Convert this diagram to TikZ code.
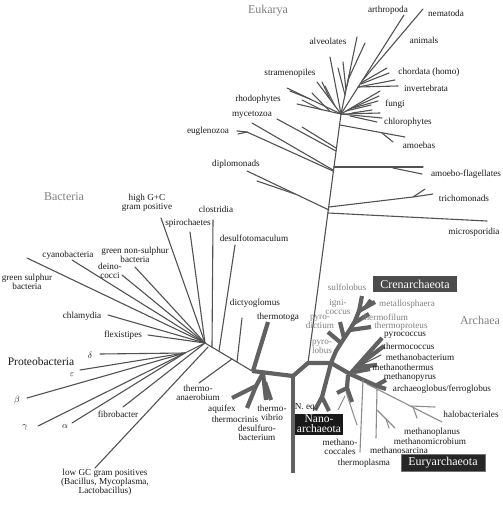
\documentclass[tikz,border=0pt]{standalone}
\usepackage{fontspec}
\setmainfont{Liberation Serif}
\begin{document}
\begin{tikzpicture}[x=1pt,y=-1pt,
  tln/.style={draw=black!68,line width=1.1pt,line cap=round},
  gln/.style={draw=black!45,line width=1.1pt,line cap=round},
  kln/.style={draw=black!62,line width=4.2pt,line cap=butt,line join=round},
  lbl/.style={font=\fontsize{9.2}{9}\selectfont,inner sep=0pt,align=center,text=black!90},
  glbl/.style={lbl,text=black!50},
  dom/.style={font=\fontsize{12}{13}\selectfont,text=black!50,inner sep=0pt},
  gbox/.style={font=\fontsize{12}{10}\selectfont,text=white,inner sep=0pt,align=center}
]
\useasboundingbox (0,0) rectangle (503,506);

% ---------------- Eukarya ----------------
\coordinate (K) at (341,114);
\draw[tln] (308,363) -- (K);
\draw[tln] (328,213) -- (487,221);
\draw[tln] (329,207) -- (413,197) -- (433,194);
\draw[tln] (413,197) -- (425,189);
\draw[tln] (329,210) -- (247,171);
\draw[tln] (295,194) -- (257,181);
\draw[tln] (334,167) -- (423,167);
\draw[tln] (393,168) -- (422,174);
\draw[tln] (333,171) -- (247,132);
\draw[tln] (247,132) -- (237,131);
\draw[tln] (247,132) -- (238,134);
\draw[tln] (333,170) -- (252,123);
\draw[tln] (336,151) -- (277,119);
\draw[tln] (336,148) -- (302,127);
% amoebas
\draw[tln] (340,125) -- (405,137);
\draw[tln] (382,133) -- (393,142);
% chlorophytes
\draw[tln] (K) -- (380,113);
\draw[tln] (K) -- (382,118);
\draw[tln] (350,116) -- (377,122);
\draw[tln] (352,113) -- (372,110);
% fungi
\draw[tln] (K) -- (380,91);
\draw[tln] (350,109) -- (379,96);
\draw[tln] (353,108) -- (378,101);
\draw[tln] (346,111) -- (371,105);
% animals
\draw[tln] (K) -- (404,15);
\draw[tln] (362,81) -- (423,9);
\draw[tln] (358,87) -- (395,80);
\draw[tln] (358,87) -- (398,86);
\draw[tln] (361,83) -- (387,68);
\draw[tln] (361,84) -- (389,73);
% left fan
\draw[tln] (K) -- (357,37);
\draw[tln] (348,80) -- (365,43);
\draw[tln] (K) -- (330,57);
\draw[tln] (345,95) -- (338,68);
\draw[tln] (346,90) -- (343,62);
\draw[tln] (347,86) -- (350,72);
\draw[tln] (K) -- (317,82);
\draw[tln] (330,99) -- (322,82);
\draw[tln] (335,106) -- (325,86);
\draw[tln] (K) -- (287,88);
\draw[tln] (310,99) -- (290,91);
\draw[tln] (K) -- (297,104);
\draw[tln] (322,110) -- (302,100);
\draw[tln] (330,111.5) -- (312,93);

% ---------------- Bacteria ----------------
\coordinate (H) at (205,343);
\coordinate (P) at (185,353);
\draw[tln] (27,258) -- (H);
\draw[tln] (72,260) -- (H);
\draw[tln] (122,275) -- (H);
\draw[tln] (135,267) -- (H);
\draw[tln] (161,218) -- (H);
\draw[tln] (190,232) -- (H);
\draw[tln] (213,220) -- (212,347);
\draw[tln] (235,245) -- (219,351);
\draw[tln] (108,315) -- (H);
\draw[tln] (148,335) -- (H);
\draw[tln] (100,354) -- (P);
\draw[tln] (80,370) -- (P);
\draw[tln] (27,398) -- (P);
\draw[tln] (38,426) -- (P);
\draw[tln] (72,423) -- (P);
\draw[tln] (P) -- (H);
\draw[tln] (123,407) -- (H);
\draw[tln] (95,468) -- (208,347);
\draw[tln] (H) -- (252,371);
\draw[tln] (199,383) -- (232,359);
\draw[tln] (242,318) -- (237,362);
% thick bacteria
\draw[kln] (252,371) -- (293,376);
\draw[kln] (268,322) -- (253,371);
\draw[kln] (263,373) -- (256,386) -- (232,398);
\draw[kln] (256,386) -- (247,408);
\draw[kln] (263,373) -- (266,400);
\draw[kln] (265,382) -- (271,400);

% ---------------- Archaea ----------------
\draw[kln] (293,376) -- (293,473);
\draw[kln] (293,376) -- (308,363) -- (331,363);
% Nano
\draw[kln] (331,363) -- (322,397) -- (315,410);
\draw[kln] (322,397) -- (329,411);
% Cren
\draw[kln] (331,363) -- (336,351) -- (343,340) -- (349,331) -- (355,321) -- (359,311) -- (362,296);
\draw[kln] (341,343) -- (328,332);
\draw[kln] (344,338) -- (340,322);
\draw[kln] (350,330) -- (371,327);
\draw[kln] (354,323) -- (369,314);
\draw[kln] (359,311) -- (375,302);
\draw[kln] (366,307) -- (371,300);
% Eury
\draw[kln] (331,363) -- (350,374) -- (377,386) -- (386,389);
\draw[kln] (376,385.5) -- (386,380);
\draw[kln] (350,374) -- (382,338);
\draw[kln] (356,367) -- (384,346);
\draw[tln] (357,367) -- (381,355);
\draw[kln] (354,372) -- (370,369);
\draw[kln] (358,367) -- (377,365);
\draw[kln] (348,375) -- (347,388) -- (337,393);
\draw[kln] (347,388) -- (352,402);
\draw[gln] (346,392) -- (357,425);
\draw[gln] (345,396) -- (338,410);
\draw[gln] (363,380) -- (360,452);
\draw[gln] (367,384) -- (442,422);
\draw[gln] (411,406) -- (435,407);
\draw[gln] (413,407) -- (417,418);
\draw[gln] (377,389) -- (376,438);
\draw[gln] (377,410) -- (395,428);
\draw[gln] (386,419) -- (389,428);

% ---------------- labels ----------------
\node[dom] (eukarya) at (268,11) {Eukarya};
\node[dom] (bacteria) at (64,197) {Bacteria};
\node[dom] (archaea) at (480,320) {Archaea};

\node[lbl] (arthropoda) at (388,10) {arthropoda};
\node[lbl] (nematoda) at (446,13) {nematoda};
\node[lbl] (alveolates) at (328,41) {alveolates};
\node[lbl] (animals) at (424,40) {animals};
\node[lbl] (stramenopiles) at (290,73) {stramenopiles};
\node[lbl] (chordata) at (429,72) {chordata (homo)};
\node[lbl] (invertebrata) at (426,88) {invertebrata};
\node[lbl] (rhodophytes) at (258,99) {rhodophytes};
\node[lbl] (fungi) at (395,104) {fungi};
\node[lbl] (mycetozoa) at (252,115) {mycetozoa};
\node[lbl] (euglenozoa) at (208,131) {euglenozoa};
\node[lbl] (chlorophytes) at (408,122) {chlorophytes};
\node[lbl] (amoebas) at (419,145) {amoebas};
\node[lbl] (diplomonads) at (236,164) {diplomonads};
\node[lbl] (amoeboflag) at (466,174) {amoebo-flagellates};
\node[lbl] (trichomonads) at (464,198) {trichomonads};
\node[lbl] (microsporidia) at (474,232) {microsporidia};

\node[lbl] (highgc) at (147,203) {high G+C\\gram positive};
\node[lbl] (clostridia) at (216,209) {clostridia};
\node[lbl] (spirochaetes) at (188,223) {spirochaetes};
\node[lbl] (desulfotomaculum) at (254,238) {desulfotomaculum};
\node[lbl] (greennon) at (135,255) {green non-sulphur\\bacteria};
\node[lbl] (deinococci) at (110,271) {deino-\\cocci};
\node[lbl] (cyanobacteria) at (68,255) {cyanobacteria};
\node[lbl] (greensulphur) at (27,282) {green sulphur\\bacteria};
\node[lbl] (chlamydia) at (82,316) {chlamydia};
\node[lbl] (flexistipes) at (123,335) {flexistipes};
\node[lbl] (dictyoglomus) at (255,303) {dictyoglomus};
\node[lbl] (thermotoga) at (278,317) {thermotoga};
\node[lbl,font=\fontsize{11.5}{12}\selectfont] (proteo) at (41,362) {Proteobacteria};
\node[lbl] (delta) at (90,355) {$\delta$};
\node[lbl] (eps) at (72,375) {$\varepsilon$};
\node[lbl] (beta) at (17,400) {$\beta$};
\node[lbl] (gamma) at (25,427) {$\gamma$};
\node[lbl] (alpha) at (65,427) {$\alpha$};
\node[lbl] (fibrobacter) at (118,414) {fibrobacter};
\node[lbl] (thermoanaerobium) at (198,393) {thermo-\\anaerobium};
\node[lbl] (aquifex) at (222,409) {aquifex};
\node[lbl] (thermocrinis) at (235,419) {thermocrinis};
\node[lbl] (thermovibrio) at (272,413) {thermo-\\vibrio};
\node[lbl] (desulfurobacterium) at (257,433) {desulfuro-\\bacterium};
\node[lbl] (lowgc) at (105,482) {low GC gram positives\\(Bacillus, Mycoplasma,\\Lactobacillus)};

\node[glbl] (sulfolobus) at (347,287) {sulfolobus};
\node[glbl] (ignicoccus) at (338,307) {igni-\\coccus};
\node[glbl] (metallosphaera) at (407,304) {metallosphaera};
\node[glbl] (thermofilum) at (385,317) {thermofilum};
\node[glbl] (thermoproteus) at (401,326) {thermoproteus};
\node[glbl] (pyrodictium) at (320,322) {pyro-\\dictium};
\node[glbl] (pyrolobus) at (322,347) {pyro-\\lobus};
\node[lbl] (pyrococcus) at (405,335) {pyrococcus};
\node[lbl] (thermococcus) at (409,346) {thermococcus};
\node[lbl] (methanobacterium) at (420,357) {methanobacterium};
\node[lbl] (methanothermus) at (403,367) {methanothermus};
\node[lbl] (methanopyrus) at (410,377) {methanopyrus};
\node[lbl] (archaeoglobus) at (442,389) {archaeoglobus/ferroglobus};
\node[lbl] (halobacteriales) at (471,414) {halobacteriales};
\node[lbl] (neq) at (306,407) {N. eq.};
\node[lbl] (methanoplanus) at (432,432.5) {methanoplanus};
\node[lbl] (methanomicrobium) at (430,441) {methanomicrobium};
\node[lbl] (methanosarcina) at (399,450) {methanosarcina};
\node[lbl] (methanococcales) at (340,447) {methano-\\coccales};
\node[lbl] (thermoplasma) at (364,463) {thermoplasma};

\node[gbox,fill=black!70,minimum width=84pt,minimum height=16pt] (cren) at (415,284) {Crenarchaeota};
\node[gbox,fill=black!85,draw=black!55,line width=0.6pt,minimum width=84pt,minimum height=17pt] (eury) at (443,462.5) {Euryarchaeota};
\node[gbox,fill=black!90,minimum width=48pt,minimum height=21pt,font=\fontsize{11.5}{10}\selectfont] (nano) at (319,424) {Nano-\\archaeota};
\end{tikzpicture}
\end{document}
